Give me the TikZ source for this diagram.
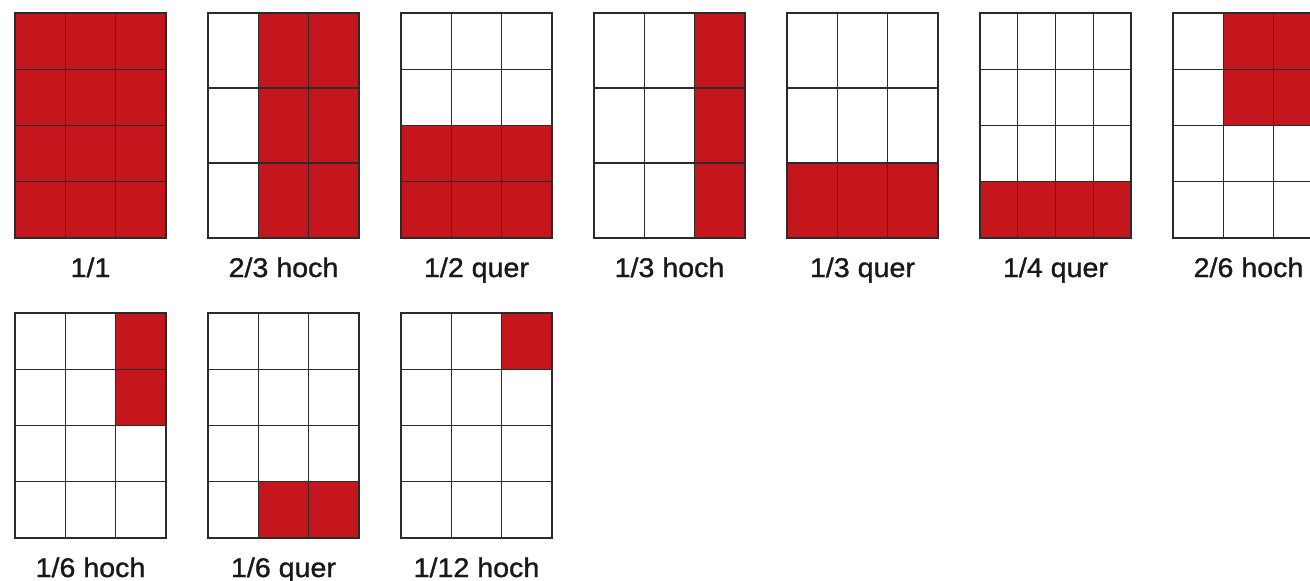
\documentclass[tikz,border=0pt]{standalone}
\usepackage{fontspec}
\usepackage{tikz}
\newfontfamily\labelfont[FakeStretch=1.06,FakeBold=1.2]{Liberation Sans}
\definecolor{formatred}{HTML}{C4161C}
\definecolor{gridgrey}{HTML}{2B2B2B}
\tikzset{
  gridline/.style={draw=gridgrey,line width=1.1pt,line cap=rect},
  panellabel/.style={anchor=base,inner sep=0pt,
    font=\labelfont\fontsize{27}{32}\selectfont,text=black!90},
}

\begin{document}
\begin{tikzpicture}[x=1pt,y=-1pt]
  \path[use as bounding box,clip] (0,0) rectangle (1310,581);
  % label / columns / rows / red cols / red rows / top left
  \foreach \lab/\nc/\nr/\xa/\xb/\ya/\yb/\px/\py [count=\i] in {
      {1/1}/3/4/0/3/0/4/15/13,
      {2/3 hoch}/3/3/1/3/0/3/208/13,
      {1/2 quer}/3/4/0/3/2/4/401/13,
      {1/3 hoch}/3/3/2/3/0/3/594/13,
      {1/3 quer}/3/3/0/3/2/3/787/13,
      {1/4 quer}/4/4/0/4/3/4/980/13,
      {2/6 hoch}/3/4/1/3/0/2/1173/13,
      {1/6 hoch}/3/4/2/3/0/2/15/313,
      {1/6 quer}/3/4/1/3/3/4/208/313,
      {1/12 hoch}/3/4/2/3/0/1/401/313} {
    \begin{scope}[shift={(\px,\py)},x=151pt/\nc,y=-225pt/\nr]
      \fill[formatred] (\xa,\ya) rectangle (\xb,\yb);
      \foreach \c in {0,...,\nc}
        \draw[gridline] (\c,0) -- (\c,\nr);
      \foreach \r in {0,...,\nr}
        \draw[gridline] (0,\r) -- (\nc,\r);
    \end{scope}
    \node[panellabel] (lab\i) at (\px+75.5,\py+264) {\lab};
  }
\end{tikzpicture}
\end{document}
